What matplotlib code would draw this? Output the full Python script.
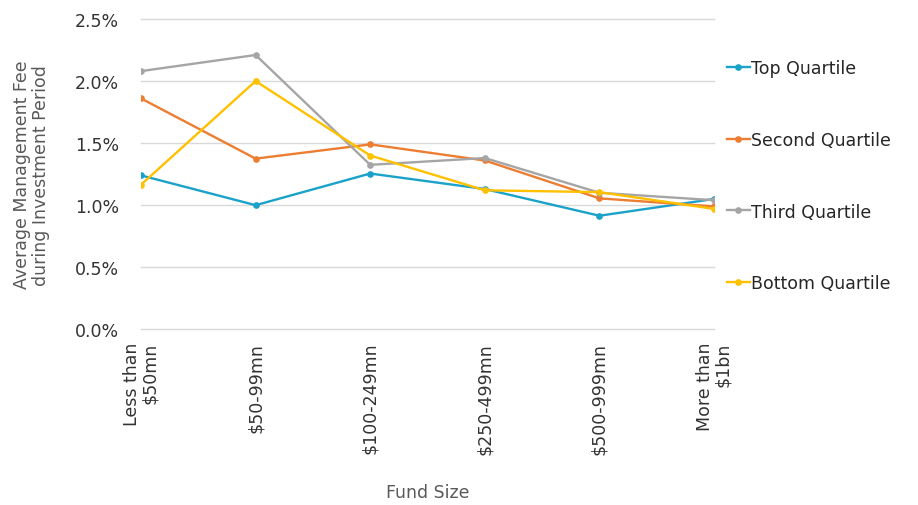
import matplotlib
matplotlib.use("Agg")
import matplotlib.pyplot as plt
from matplotlib.ticker import PercentFormatter

# Average management fee (%) by fund size, per performance quartile
fund_sizes = ["Less than\n$50mn", "$50-99mn", "$100-249mn", "$250-499mn",
              "$500-999mn", "More than\n$1bn"]
top_quartile = [1.24, 1.00, 1.255, 1.13, 0.915, 1.05]
second_quartile = [1.86, 1.375, 1.49, 1.36, 1.055, 0.99]
third_quartile = [2.08, 2.21, 1.325, 1.38, 1.10, 1.04]
bottom_quartile = [1.165, 2.00, 1.40, 1.12, 1.105, 0.97]

series = [
    ("Top Quartile", top_quartile, "#1AA2C9"),
    ("Second Quartile", second_quartile, "#ED7D31"),
    ("Third Quartile", third_quartile, "#A5A5A5"),
    ("Bottom Quartile", bottom_quartile, "#FFC000"),
]

plt.rcParams["font.family"] = ["DejaVu Sans"]

fig = plt.figure(figsize=(9.18, 5.06), dpi=100)
ax = fig.add_axes([0.1536, 0.3472, 0.6242, 0.6133])

x = list(range(len(fund_sizes)))
for name, vals, col in series:
    ax.plot(x, vals, color=col, lw=1.7, marker="o", ms=3.8, label=name,
            solid_joinstyle="round")

ax.set_xlim(0, len(fund_sizes) - 1)
ax.set_ylim(0, 2.5)
ax.set_yticks([0, 0.5, 1.0, 1.5, 2.0, 2.5])
ax.yaxis.set_major_formatter(PercentFormatter(decimals=1))
ax.grid(axis="y", color="#D9D9D9", lw=1)
for gl in ax.get_ygridlines():
    gl.set_clip_on(False)
ax.set_axisbelow(True)
for s in ax.spines.values():
    s.set_visible(False)
ax.tick_params(length=0, labelsize=12.5, colors="#333333")
ax.tick_params(axis="y", pad=16)

ax.set_xticks(x)
ax.set_xticklabels(fund_sizes, rotation=90, va="top", ha="center",
                   multialignment="right", linespacing=1.0)
ax.tick_params(axis="x", pad=9)

ax.set_xlabel("Fund Size", fontsize=12.5, color="#595959", labelpad=21)
fig.text(0.034, 0.6539, "Average Management Fee\nduring Investment Period",
         rotation=90, ha="center", va="center", fontsize=12.5,
         color="#595959", linespacing=1.05)

fig.legend(loc="center left", bbox_to_anchor=(0.775, 0.651), frameon=False,
           fontsize=12.5, labelspacing=3.1, handlelength=1.3,
           handletextpad=0.1, labelcolor="#262626")

fig.savefig("out.png", dpi=100)
